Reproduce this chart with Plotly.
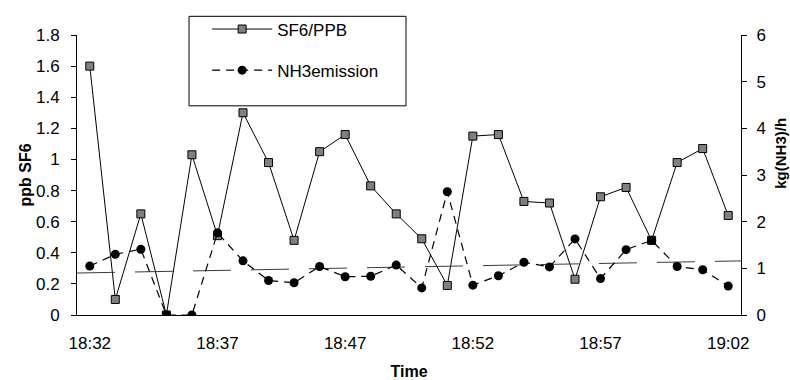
import numpy as np
import plotly.graph_objects as go

# Sample number along the run; time labels shown every fifth sample
tick_samples = [0, 5, 10, 15, 20, 25]
tick_labels = ["18:32", "18:37", "18:47", "18:52", "18:57", "19:02"]

# SF6 concentration (ppb), left axis
sf6_ppb = [1.60, 0.10, 0.65, 0.00, 1.03, 0.51, 1.30, 0.98, 0.48, 1.05,
           1.16, 0.83, 0.65, 0.49, 0.19, 1.15, 1.16, 0.73, 0.72, 0.23,
           0.76, 0.82, 0.48, 0.98, 1.07, 0.64]

# NH3 emission (kg NH3 per hour), right axis
nh3_kg_h = [1.05, 1.30, 1.41, 0.00, 0.00, 1.76, 1.16, 0.74, 0.69, 1.04,
            0.82, 0.83, 1.07, 0.58, 2.64, 0.64, 0.84, 1.13, 1.03, 1.63,
            0.78, 1.40, 1.60, 1.04, 0.97, 0.62]

samples = list(range(len(sf6_ppb)))
x_lo, x_hi = -0.5, len(samples) - 0.5
boundaries = [s - 0.5 for s in tick_samples[1:]]

# Linear trend of the NH3 emission across the whole axis
slope, intercept = np.polyfit(samples, nh3_kg_h, 1)
trend_x = [x_lo, x_hi]
trend_y = [slope * x + intercept for x in trend_x]

FONT = "Liberation Sans, Arial, sans-serif"

fig = go.Figure()

fig.add_trace(go.Scatter(
    x=trend_x, y=trend_y, yaxis="y2", mode="lines",
    line=dict(color="#3a3a3a", width=1, dash="38px,20px"),
    showlegend=False, hoverinfo="skip",
))

fig.add_trace(go.Scatter(
    x=samples, y=sf6_ppb, name="SF6/PPB", mode="lines+markers",
    legendgroup="a",
    line=dict(color="black", width=1),
    marker=dict(symbol="square", size=8, color="#808080",
                line=dict(color="black", width=1)),
))

fig.add_trace(go.Scatter(
    x=samples, y=nh3_kg_h, name="NH3emission", yaxis="y2",
    mode="lines+markers", legendgroup="b",
    line=dict(color="black", width=1.2, dash="8px,6px"),
    marker=dict(symbol="circle", size=9, color="black"),
))

axis_common = dict(showgrid=False, zeroline=False, color="black",
                   automargin=False,
                   tickfont=dict(family=FONT, size=17, color="black"))
tick_overlay = dict(showticklabels=False, showline=False, showgrid=False,
                    zeroline=False, tickcolor="black", ticklen=5,
                    automargin=False)

fig.update_layout(
    width=790, height=380,
    margin=dict(l=77, r=49, t=30, b=65),
    paper_bgcolor="white", plot_bgcolor="white",
    font=dict(family=FONT, size=17, color="black"),
    xaxis=dict(
        range=[x_lo, x_hi], tickmode="array", tickvals=tick_samples,
        ticktext=tick_labels, ticks="", showline=True, linecolor="black",
        linewidth=1, ticklabelstandoff=13,
        title=dict(text="<b>Time</b>", font=dict(family=FONT, size=16),
                   standoff=13),
        **axis_common,
    ),
    xaxis2=dict(range=[x_lo, x_hi], overlaying="x", anchor="y",
                tickmode="array", tickvals=boundaries, ticks="outside",
                **tick_overlay),
    xaxis3=dict(range=[x_lo, x_hi], overlaying="x", anchor="y",
                tickmode="array", tickvals=boundaries, ticks="inside",
                **tick_overlay),
    yaxis=dict(
        range=[0, 1.8], dtick=0.2, tick0=0, ticks="outside", ticklen=5,
        tickcolor="black", showline=True, linecolor="black", linewidth=1,
        ticklabelstandoff=8,
        title=dict(text="<b>ppb SF6</b>", font=dict(family=FONT, size=16),
                   standoff=0),
        **axis_common,
    ),
    yaxis2=dict(
        range=[0, 6], dtick=1, tick0=0, overlaying="y", side="right",
        anchor="x", ticks="outside", ticklen=5, tickcolor="black",
        showline=True, linecolor="black", linewidth=1, ticklabelstandoff=6,
        **axis_common,
    ),
    yaxis3=dict(range=[0, 1.8], dtick=0.2, tick0=0, overlaying="y",
                side="left", anchor="x", ticks="inside", **tick_overlay),
    yaxis4=dict(range=[0, 6], dtick=1, tick0=0, overlaying="y",
                side="right", anchor="x", ticks="inside", **tick_overlay),
    legend=dict(
        x=0.196, y=1.084, xanchor="left", yanchor="top",
        bgcolor="rgba(0,0,0,0)", borderwidth=0, itemwidth=60,
        tracegroupgap=16, traceorder="grouped",
        font=dict(family=FONT, size=17, color="black"),
    ),
    shapes=[dict(
        type="rect", xref="paper", yref="paper",
        x0=0.1687, x1=0.4955, y0=0.747, y1=1.0667,
        line=dict(color="black", width=1), fillcolor="rgba(0,0,0,0)",
    )],
    annotations=[dict(
        text="<b>kg(NH3)/h</b>", xref="paper", yref="paper",
        x=1.060, y=0.579, xanchor="center", yanchor="middle",
        textangle=-90, showarrow=False,
        font=dict(family=FONT, size=15, color="black"),
    )],
)

fig.write_html("out.html")
